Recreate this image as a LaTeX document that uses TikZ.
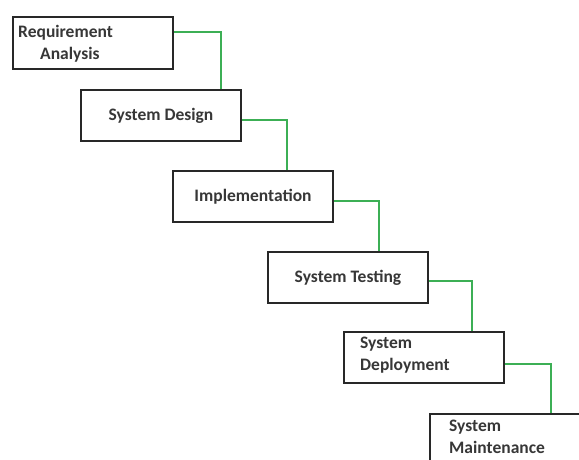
\documentclass[tikz,border=0pt]{standalone}
\usepackage{fontspec}
\setmainfont{Carlito}
\definecolor{linkgreen}{RGB}{60,175,85}
\definecolor{boxink}{RGB}{40,40,40}
\definecolor{textink}{RGB}{55,55,55}
\begin{document}
\begin{tikzpicture}[x=1pt,y=-1pt,
  labelfont/.style={text=textink, font=\fontsize{17.5}{22}\selectfont\bfseries},
  stage/.style={draw=boxink, line width=2pt, fill=white, minimum width=160pt,
    minimum height=51pt, inner sep=0pt, labelfont},
  note/.style={anchor=west, align=left, inner sep=0pt, labelfont},
  link/.style={draw=linkgreen, line width=1.6pt}]
\useasboundingbox (0,0) rectangle (579,460);
\clip (0,0) rectangle (579,460);

% waterfall stages (boxes anchored by their north west corners)
\node[stage, anchor=north west, minimum height=52pt] (req) at (12,16) {};
\node[note] (reqtext) at (18,44) {Requirement\\\hspace*{22pt}Analysis};
\node[stage, anchor=north west] (des) at (80,89) {System Design};
\node[stage, anchor=north west] (imp) at (172,170) {Implementation};
\node[stage, anchor=north west] (tst) at (267,251) {System Testing};
\node[stage, anchor=north west] (dep) at (343,331) {};
\node[note] (deptext) at (360,355) {System\\Deployment};
\node[stage, anchor=north west, minimum width=170pt, minimum height=60pt] (mnt) at (429,413) {};
\node[note] (mnttext) at (449,437) {System\\Maintenance};

% step connectors
\coordinate (c1) at (221,0);
\coordinate (c2) at (287,0);
\coordinate (c3) at (379,0);
\coordinate (c4) at (472,0);
\coordinate (c5) at (551,0);
\draw[link] ([yshift=-16pt]req.north east) -| (c1 |- des.north);
\draw[link] ([yshift=-31pt]des.north east) -| (c2 |- imp.north);
\draw[link] ([yshift=-31pt]imp.north east) -| (c3 |- tst.north);
\draw[link] ([yshift=-30pt]tst.north east) -| (c4 |- dep.north);
\draw[link] ([yshift=-33pt]dep.north east) -| (c5 |- mnt.north);
\end{tikzpicture}
\end{document}
